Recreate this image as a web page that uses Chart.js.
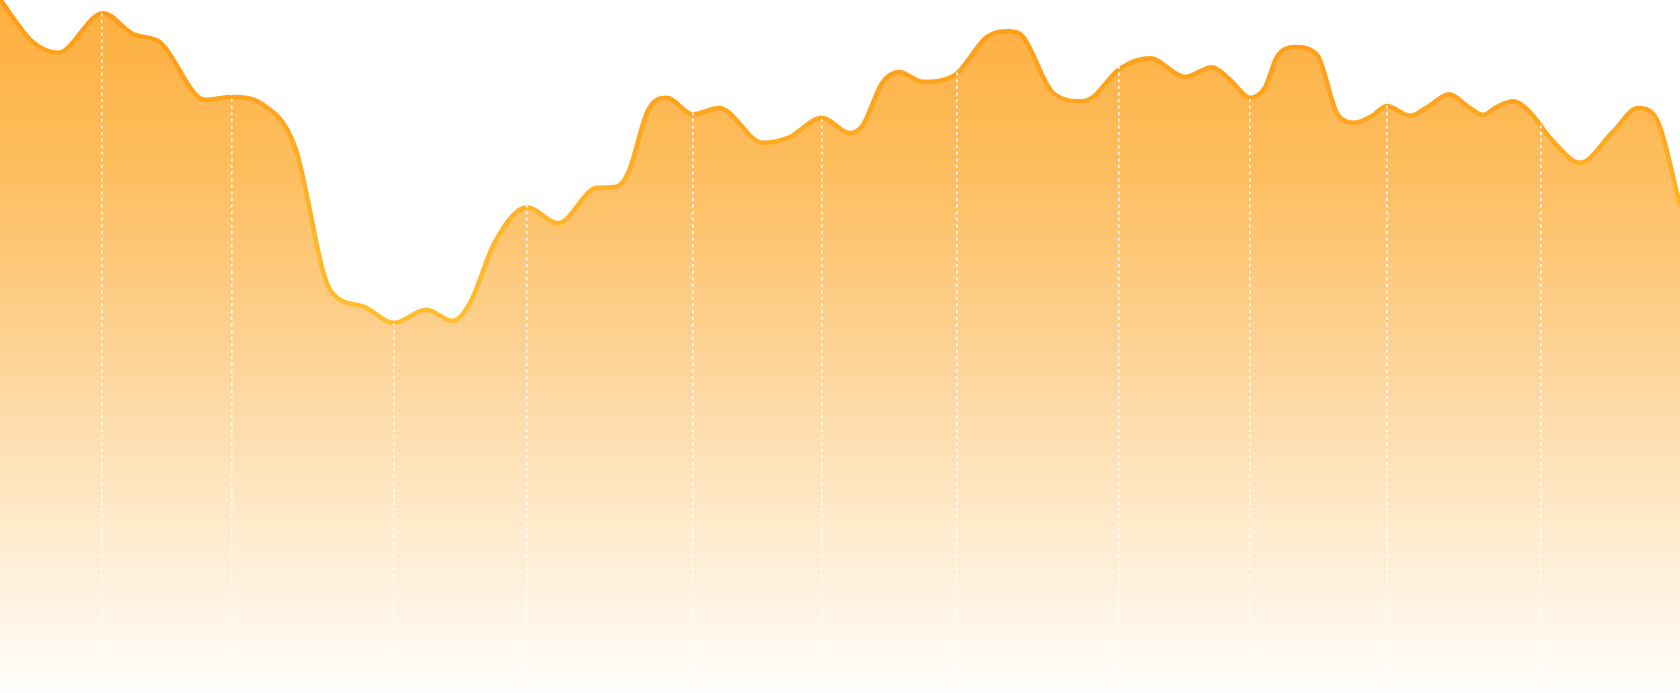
<!DOCTYPE html>
<html>
<head>
<meta charset="utf-8">
<script src="https://cdn.jsdelivr.net/npm/chart.js@4.4.1/dist/chart.umd.min.js"></script>
<style>
  html, body { margin: 0; padding: 0; background: #ffffff; }
  #wrap { position: relative; width: 1680px; height: 693px; }
</style>
</head>
<body>
<div id="wrap"><canvas id="c"></canvas></div>
<script>
// time position of each sample (arbitrary units along the period)
const times = [0, 6.6, 11.6, 20.6, 26.6, 32, 41, 46.4, 52.4, 59, 66, 72.6, 78.8, 85.2, 90.6, 94, 99, 105.4, 111.6, 119.4, 123, 125.6, 129.6, 133.4, 138.6, 143.8, 152.6, 157.6, 164.4, 170, 172.6, 176.4, 179.8, 184.6, 191, 197.4, 202, 204.6, 210.6, 216.4, 218.6, 223.8, 230, 237, 242.4, 246, 250, 253, 255.4, 259, 263.4, 267.6, 271, 274, 277.4, 282, 285.6, 289.8, 294, 296.6, 299.4, 302.6, 306, 310.4, 316, 322.6, 327.6, 331.4, 336];
// series values
const values = [100.1, 93.9, 92.4, 98.1, 95.1, 93.9, 85.6, 86.0, 85.0, 78.8, 58.2, 55.8, 53.4, 55.3, 53.7, 56.3, 65.1, 70.1, 67.8, 72.9, 73.0, 75.0, 84.1, 85.9, 83.5, 84.4, 79.4, 80.1, 83.0, 80.8, 82.0, 88.0, 89.6, 88.2, 89.2, 94.7, 95.5, 94.7, 86.6, 85.4, 86.0, 90.0, 91.6, 88.9, 90.3, 88.5, 85.9, 87.4, 91.8, 93.2, 92.1, 83.4, 82.3, 83.1, 84.7, 83.3, 84.6, 86.4, 84.4, 83.4, 84.6, 85.4, 83.8, 79.8, 76.5, 81.0, 84.4, 82.7, 70.4];
// positions of the dotted marker lines (same units as times)
const markerTimes = [20.4, 46.4, 78.8, 105.4, 138.6, 164.4, 191.4, 223.8, 250, 277.4, 308.2];

const points = times.map((t, i) => ({ x: t, y: values[i] }));

function fillGradient(context) {
  const chart = context.chart;
  const area = chart.chartArea;
  if (!area) return 'rgba(254,176,66,0.8)';
  const g = chart.ctx.createLinearGradient(0, area.top, 0, area.bottom);
  g.addColorStop(0, 'rgb(254,174,62)');
  g.addColorStop(0.25, 'rgb(253,190,95)');
  g.addColorStop(0.5, 'rgb(253,210,148)');
  g.addColorStop(0.72, 'rgb(255,231,196)');
  g.addColorStop(1, 'rgb(255,254,252)');
  return g;
}
function lineGradient(context) {
  const chart = context.chart;
  const area = chart.chartArea;
  if (!area) return '#FFA51E';
  const g = chart.ctx.createLinearGradient(0, area.top, 0, area.bottom);
  g.addColorStop(0, '#FF9C16');
  g.addColorStop(0.15, '#FFA41C');
  g.addColorStop(0.3, '#FFB325');
  g.addColorStop(0.47, '#FFBE2C');
  g.addColorStop(1, '#FFC530');
  return g;
}

new Chart(document.getElementById('c'), {
  type: 'line',
  data: {
    datasets: [{
      data: points,
      borderColor: lineGradient,
      backgroundColor: fillGradient,
      borderWidth: 4.5,
      fill: 'start',
      pointRadius: 0,
      pointHoverRadius: 0,
      cubicInterpolationMode: 'monotone'
    }]
  },
  options: {
    responsive: true,
    maintainAspectRatio: false,
    animation: false,
    layout: { padding: 0 },
    plugins: { legend: { display: false }, tooltip: { enabled: false } },
    events: [],
    scales: {
      x: {
        type: 'linear',
        min: 0,
        max: 336,
        display: true,
        afterBuildTicks: (axis) => { axis.ticks = markerTimes.map(v => ({ value: v })); },
        ticks: { display: false },
        grid: { display: true, drawTicks: false, color: 'rgba(255,255,255,0.95)', lineWidth: 1.6, z: 1 },
        border: { display: false, dash: [3, 3.6] }
      },
      y: {
        display: false,
        min: 0,
        max: 100
      }
    }
  }
});
</script>
</body>
</html>
